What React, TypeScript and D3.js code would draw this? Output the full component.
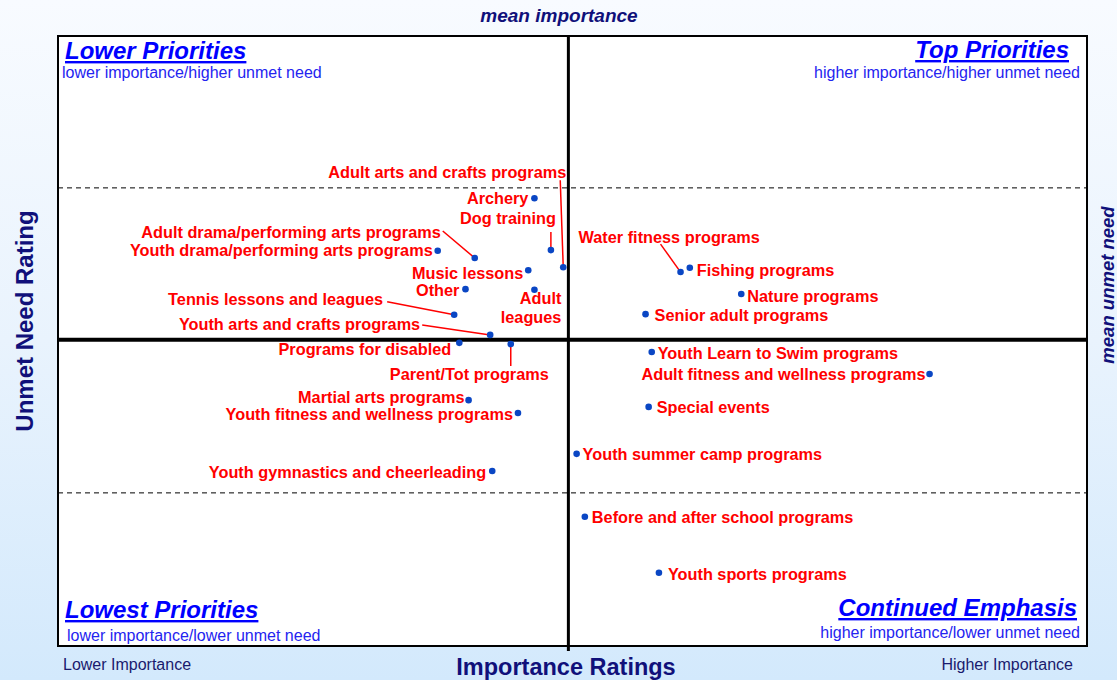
import React from "react";
import * as d3 from "d3";

// ---- Data ----
const programs = [
  "Archery",
  "Dog training",
  "Adult arts and crafts programs",
  "Adult drama/performing arts programs",
  "Youth drama/performing arts programs",
  "Music lessons",
  "Other",
  "Adult leagues",
  "Tennis lessons and leagues",
  "Youth arts and crafts programs",
  "Programs for disabled",
  "Parent/Tot programs",
  "Martial arts programs",
  "Youth fitness and wellness programs",
  "Youth gymnastics and cheerleading",
  "Water fitness programs",
  "Fishing programs",
  "Nature programs",
  "Senior adult programs",
  "Youth Learn to Swim programs",
  "Adult fitness and wellness programs",
  "Special events",
  "Youth summer camp programs",
  "Before and after school programs",
  "Youth sports programs",
];
const importance = [
  46.3, 47.9, 49.1, 40.5, 36.9, 45.7, 39.6, 46.3, 38.5, 42.0, 39.0, 44.0, 39.9,
  44.7, 42.2, 60.5, 61.4, 66.4, 57.1, 57.7, 84.7, 57.4, 50.4, 51.2, 58.4,
];
const unmetNeed = [
  73.4, 64.9, 62.1, 63.6, 64.8, 61.6, 58.5, 58.4, 54.3, 51.0, 49.7, 49.5, 40.3,
  38.2, 28.7, 61.3, 62.0, 57.7, 54.4, 48.2, 44.6, 39.2, 31.5, 21.2, 12.0,
];
const meanImportance = 49.6;
const meanUnmetNeed = 50.2;
const bandLines = [25.1, 75.1];

// Label placement (layout only): dx, dy of text anchor relative to point, anchor, leader line start offset
type Place = { dx: number; dy: number; anchor: string; lx?: number; ly?: number; lines?: string[] };
const labelPlacement: Place[] = [
  { dx: -6, dy: 0, anchor: "end" },
  { dx: 5, dy: -32, anchor: "end", lx: 0, ly: -18 },
  { dx: 3, dy: -95, anchor: "end", lx: -3, ly: -87 },
  { dx: -34, dy: -26, anchor: "end", lx: -32, ly: -27 },
  { dx: -5, dy: 0, anchor: "end" },
  { dx: -5, dy: 3, anchor: "end" },
  { dx: -6, dy: 1, anchor: "end" },
  { dx: 27, dy: 14, anchor: "end", lines: ["Adult", "leagues"] },
  { dx: -71, dy: -15, anchor: "end", lx: -67, ly: -13 },
  { dx: -70, dy: -11, anchor: "end", lx: -68, ly: -10 },
  { dx: -8, dy: 6, anchor: "end" },
  { dx: 38, dy: 30, anchor: "end", lx: 0, ly: 22 },
  { dx: -4, dy: -3, anchor: "end" },
  { dx: -5, dy: 1, anchor: "end" },
  { dx: -6, dy: 1, anchor: "end" },
  { dx: -102, dy: -35, anchor: "start", lx: -20, ly: -28 },
  { dx: 7, dy: 2, anchor: "start" },
  { dx: 6, dy: 2, anchor: "start" },
  { dx: 9, dy: 1, anchor: "start" },
  { dx: 6, dy: 1, anchor: "start" },
  { dx: -4, dy: 0, anchor: "end" },
  { dx: 8, dy: 0, anchor: "start" },
  { dx: 6, dy: 0, anchor: "start" },
  { dx: 7, dy: 1, anchor: "start" },
  { dx: 9, dy: 1, anchor: "start" },
];

const W = 1117;
const H = 680;
const L = 58, R = 1087, T = 36, B = 646;

export default function App() {
  const x = d3.scaleLinear().domain([0, 100]).range([L, R]);
  const y = d3.scaleLinear().domain([0, 100]).range([B, T]);
  const navy = "#10107a";
  const blue = "#0000ff";
  const sub = "#2424f0";
  const red = "#ff0000";
  const font = "Liberation Sans, Arial, sans-serif";

  const mx = x(meanImportance);
  const my = y(meanUnmetNeed);

  return (
    <svg
      width={W}
      height={H}
      style={{ position: "absolute", left: 0, top: 0 }}
      fontFamily={font}
    >
      <defs>
        <linearGradient id="bg" x1="0" y1="0" x2="0" y2="1">
          <stop offset="0" stopColor="#f8fbff" />
          <stop offset="0.5" stopColor="#e9f3fd" />
          <stop offset="1" stopColor="#d3e9fc" />
        </linearGradient>
      </defs>
      <rect x={0} y={0} width={W} height={H} fill="url(#bg)" />
      <rect x={L} y={T} width={R - L} height={B - T} fill="#fff" stroke="#000" strokeWidth={2} />

      {bandLines.map((v, i) => (
        <line key={i} x1={L} x2={R} y1={y(v)} y2={y(v)} stroke="#000" strokeWidth={1} strokeDasharray="5,4" />
      ))}
      <line x1={mx} x2={mx} y1={T} y2={B + 5} stroke="#000" strokeWidth={3} />
      <line x1={L} x2={R} y1={my} y2={my} stroke="#000" strokeWidth={4} />

      {/* quadrant titles */}
      <g fontWeight="bold" fontStyle="italic" fontSize={24} fill={blue} textDecoration="underline">
        <text x={65} y={59}>Lower Priorities</text>
        <text x={1069} y={58} textAnchor="end">Top Priorities</text>
        <text x={65} y={618}>Lowest Priorities</text>
        <text x={1077} y={616} textAnchor="end">Continued Emphasis</text>
      </g>
      <g fontSize={16} fill={sub}>
        <text x={62} y={78}>lower importance/higher unmet need</text>
        <text x={1080} y={78} textAnchor="end">higher importance/higher unmet need</text>
        <text x={67} y={641}>lower importance/lower unmet need</text>
        <text x={1080} y={638} textAnchor="end">higher importance/lower unmet need</text>
      </g>

      {/* leader lines */}
      {programs.map((p, i) => {
        const pl = labelPlacement[i];
        if (pl.lx === undefined) return null;
        const px = x(importance[i]);
        const py = y(unmetNeed[i]);
        return (
          <line key={"l" + i} x1={px + pl.lx} y1={py + (pl.ly as number)} x2={px} y2={py} stroke={red} strokeWidth={1.5} />
        );
      })}

      {/* labels */}
      <g fontWeight="bold" fontSize={16.3} fill={red}>
        {programs.map((p, i) => {
          const pl = labelPlacement[i];
          const px = x(importance[i]);
          const py = y(unmetNeed[i]);
          if (pl.lines) {
            return (
              <text key={"t" + i} x={px + pl.dx} y={py + pl.dy} textAnchor={pl.anchor}>
                {pl.lines.map((ln, k) => (
                  <tspan key={k} x={px + pl.dx} dy={k === 0 ? 0 : 19}>{ln}</tspan>
                ))}
              </text>
            );
          }
          return (
            <text key={"t" + i} x={px + pl.dx} y={py + pl.dy} dy="0.35em" textAnchor={pl.anchor}>
              {p}
            </text>
          );
        })}
      </g>

      {/* points */}
      {programs.map((p, i) => (
        <circle key={"c" + i} cx={x(importance[i])} cy={y(unmetNeed[i])} r={3.3} fill="#0a46c4" />
      ))}

      {/* axis titles */}
      <text x={559} y={22} textAnchor="middle" fontWeight="bold" fontStyle="italic" fontSize={19} fill={navy}>
        mean importance
      </text>
      <text
        transform={`translate(1114,${285}) rotate(-90)`}
        textAnchor="middle"
        fontWeight="bold"
        fontStyle="italic"
        fontSize={18.5}
        fill={navy}
      >
        mean unmet need
      </text>
      <text
        transform={`translate(33,321) rotate(-90)`}
        textAnchor="middle"
        fontWeight="bold"
        fontSize={24}
        fill={navy}
      >
        Unmet Need Rating
      </text>
      <text x={566} y={675} textAnchor="middle" fontWeight="bold" fontSize={23.5} fill={navy}>
        Importance Ratings
      </text>
      <text x={63} y={670} fontSize={16} fill="#1a1a6e">Lower Importance</text>
      <text x={1073} y={670} textAnchor="end" fontSize={16} fill="#1a1a6e">Higher Importance</text>
    </svg>
  );
}
